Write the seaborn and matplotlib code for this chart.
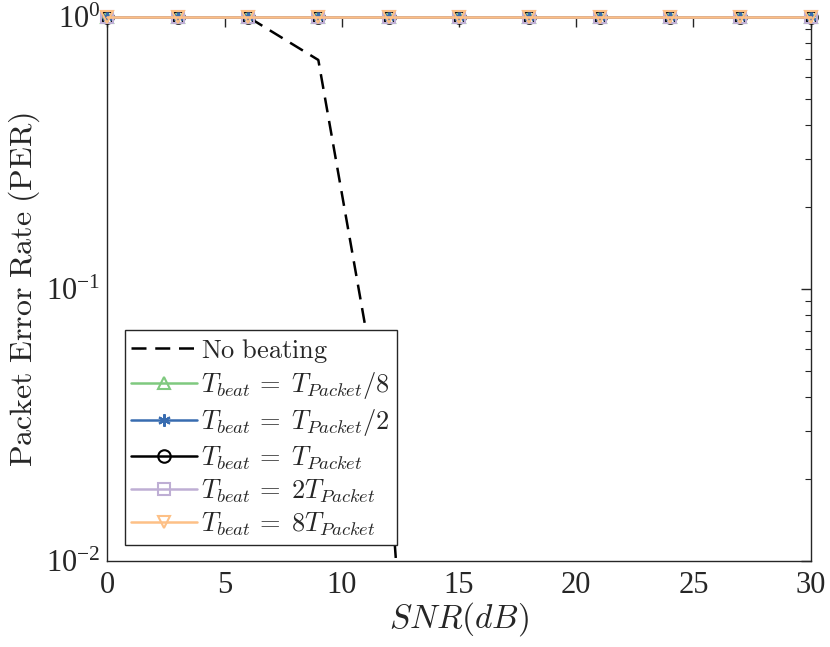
import numpy as np
import pandas as pd
import matplotlib
matplotlib.use("Agg")
import matplotlib.pyplot as plt
import seaborn as sns
from matplotlib.ticker import FixedLocator, FuncFormatter, LogLocator, NullFormatter

snr = [0, 3, 6, 9, 12, 15, 18, 21, 24, 27, 30]
per_no_beating = [1.0, 1.0, 1.0, 0.695, 0.0237, 6e-6, np.nan, np.nan, np.nan, np.nan, np.nan]
per_tp8 = [1.0] * 11
per_tp2 = [1.0] * 11
per_tp1 = [1.0] * 11
per_2tp = [1.0] * 11
per_8tp = [1.0] * 11

labels = [r"$\mathrm{No\ beating}$",
          r"$T_{beat}\,=\;T_{Packet}/8$",
          r"$T_{beat}\,=\;T_{Packet}/2$",
          r"$T_{beat}\,=\;T_{Packet}$",
          r"$T_{beat}\,=\;2T_{Packet}$",
          r"$T_{beat}\,=\;8T_{Packet}$"]
x_ticks = [0, 5, 10, 15, 20, 25, 30]
y_ticks = [1e-2, 1e-1, 1e0]

sns.set_theme(style="white")
plt.rcParams["font.family"] = ["Liberation Serif", "DejaVu Serif"]
plt.rcParams["mathtext.fontset"] = "cm"

fig = plt.figure(figsize=(8.3, 6.47), dpi=100)
ax = fig.add_axes([107.3 / 830, 1 - 561 / 647, (810.7 - 107.3) / 830, (561 - 17) / 647])

series = [
    (per_no_beating, "black", None, dict(linestyle=(0, (6, 3.5)))),
    (per_tp8, "#7fc97f", "^", dict(markerfacecolor="none")),
    (per_tp2, "#386cb0", (6, 2, 0), dict()),
    (per_tp1, "black", "o", dict(markerfacecolor="none")),
    (per_2tp, "#beaed4", "s", dict(markerfacecolor="none")),
    (per_8tp, "#fdc086", "v", dict(markerfacecolor="none")),
]
for (vals, col, mk, extra), lab in zip(series, labels):
    df = pd.DataFrame({"snr": snr, "per": vals})
    kw = dict(color=col, linewidth=1.8, label=lab, clip_on=(mk is None))
    if mk is not None:
        kw.update(marker=mk, markersize=9, markeredgewidth=1.5, markeredgecolor=col)
    kw.update(extra)
    sns.lineplot(data=df, x="snr", y="per", ax=ax, **kw)

ax.set_yscale("log")
ax.set_xlim(0, 30)
ax.set_ylim(1e-2, 1.0)
ax.xaxis.set_major_locator(FixedLocator(x_ticks))
ax.yaxis.set_major_locator(FixedLocator(y_ticks))
ax.yaxis.set_minor_locator(LogLocator(base=10, subs=np.arange(2, 10)))
ax.yaxis.set_minor_formatter(NullFormatter())
ax.yaxis.set_major_formatter(FuncFormatter(
    lambda v, p: r"$\mathdefault{10^{%d}}$" % int(round(np.log10(v)))))
ax.tick_params(axis="both", which="both", direction="in", top=True, right=True,
               labelsize=22, colors="#262626", labelcolor="#262626")
ax.tick_params(which="major", length=7, width=1)
ax.tick_params(which="minor", length=4, width=0.8)
ax.tick_params(axis="x", pad=7)
ax.tick_params(axis="y", pad=5)
for sp in ax.spines.values():
    sp.set_color("#262626")
    sp.set_linewidth(1.0)
    sp.set_zorder(1)

ax.set_xlabel(r"$SNR(dB)$", fontsize=24, color="#262626", labelpad=0)
ax.set_ylabel(r"$\mathrm{Packet\ Error\ Rate\ (PER)}$", fontsize=23, color="#262626", labelpad=3)

leg = ax.legend(loc="upper left", bbox_to_anchor=(0.025, 0.4246), borderaxespad=0,
                fontsize=19, handlelength=2.5, handletextpad=0.15, borderpad=0.25,
                labelspacing=0.22, frameon=True, fancybox=False, framealpha=1,
                edgecolor="#262626")
leg.get_frame().set_linewidth(1.0)
leg.set_zorder(10)

fig.savefig("out.png", dpi=100)
